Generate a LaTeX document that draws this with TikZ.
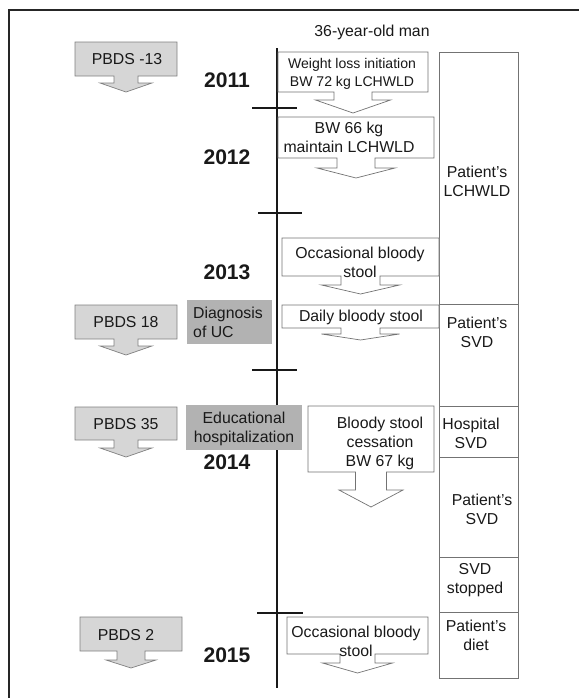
\documentclass[tikz,border=0pt]{standalone}
\usepackage{fontspec}
\setmainfont{Liberation Sans}

\begin{document}
\begin{tikzpicture}[x=0.03cm, y=-0.03cm,
  event/.style={draw=black!55, fill=white, line width=0.6pt},
  pbds/.style={draw=black!50, fill=black!16, line width=0.6pt},
  txt/.style={align=center, inner sep=0pt, text=black!90, font=\fontsize{13.5}{16.2}\selectfont},
  year/.style={inner sep=0pt, text=black!90, font=\fontsize{18}{20}\selectfont\bfseries}]
  \useasboundingbox (0,0) rectangle (579,698);
  \draw[line width=1pt, black!85] (9,698) -- (9,10) -- (579,10);

  \node[txt] (man) at (372,32) {36-year-old man};

  % PBDS arrows on the left
  \foreach \xa/\ya/\xb/\yb/\sw/\sl/\hw/\ty in {75/42/177/76/12/83/26/92, 75/305/177/339/12/346/26/355,
      75/407/177/440/12/448/26/457, 80/617/182/651/14/660/25/668} {
    \pgfmathsetmacro\cx{(\xa+\xb)/2}
    \draw[pbds] (\xa,\ya) -- (\xb,\ya) -- (\xb,\yb) -- (\cx+\sw,\yb) -- (\cx+\sw,\sl) -- (\cx+\hw,\sl)
      -- (\cx,\ty) -- (\cx-\hw,\sl) -- (\cx-\sw,\sl) -- (\cx-\sw,\yb) -- (\xa,\yb) -- cycle;
  }
  \node[txt] (p13) at (127,59) {PBDS -13};
  \node[txt] (p18) at (126,322) {PBDS 18};
  \node[txt] (p35) at (126,424) {PBDS 35};
  \node[txt] (p2) at (126,635) {PBDS 2};

  % right column
  \draw[event] (439,52) rectangle (518,678);
  \foreach \y in {304, 406, 457, 557, 612} {
    \draw[black!55, line width=0.6pt] (439,\y) -- (518,\y);
  }
  \node[txt] (plch) at (477,181) {Patient's\\LCHWLD};
  \node[txt] (psvd) at (477,332) {Patient's\\SVD};
  \node[txt] (hsvd) at (471,433) {Hospital\\SVD};
  \node[txt] (psvdb) at (482,509) {Patient's\\SVD};
  \node[txt] (stop) at (475,580) {SVD\\stopped};
  \node[txt] (diet) at (476,635) {Patient's\\diet};

  % time line
  \draw[line width=2pt, black!90] (277,48) -- (277,688);
  \foreach \y/\a/\b in {108/252/297, 213/258/302, 370/252/297, 613/257/303} {
    \draw[line width=2pt, black!90] (\a,\y) -- (\b,\y);
  }
  \foreach \y/\yr in {80/2011, 157/2012, 272/2013, 462/2014, 655/2015} {
    \node[year] (y\yr) at (227,\y) {\yr};
  }

  % events along the line
  \foreach \xa/\ya/\xb/\yb/\sw/\sl/\hw/\ty in {278/52/428/92/19/100/37.5/113, 278/117/434/158/19/168/39/178,
      282/238/439/276/19.5/285/39/294, 282/305/439/328/19.5/334/39/340,
      308/406/434/472/15.5/490/32/507, 287/617/428/654/17.5/663/35/673} {
    \pgfmathsetmacro\cx{(\xa+\xb)/2}
    \draw[event] (\xa,\ya) -- (\xb,\ya) -- (\xb,\yb) -- (\cx+\sw,\yb) -- (\cx+\sw,\sl) -- (\cx+\hw,\sl)
      -- (\cx,\ty) -- (\cx-\hw,\sl) -- (\cx-\sw,\sl) -- (\cx-\sw,\yb) -- (\xa,\yb) -- cycle;
  }
  \node[txt, font=\fontsize{12}{15.3}\selectfont] (wl) at (352,74) {Weight loss initiation\\BW 72 kg LCHWLD};
  \node[txt] (bw) at (349,137) {BW 66 kg\\maintain LCHWLD};
  \node[txt] (occ) at (360,262) {Occasional bloody\\stool};
  \node[txt] (daily) at (361,317) {Daily bloody stool};
  \node[txt] (cess) at (380,443) {Bloody stool\\cessation\\BW 67 kg};
  \node[txt] (occb) at (356,641) {Occasional bloody\\stool};

  % grey markers
  \fill[black!30] (187,300) rectangle (272,344);
  \node[txt, align=left, anchor=west] (diag) at (193,322) {Diagnosis\\of UC};
  \fill[black!30] (186,405) rectangle (302,450);
  \node[txt] (edu) at (244,429) {Educational\\hospitalization};
\end{tikzpicture}
\end{document}
